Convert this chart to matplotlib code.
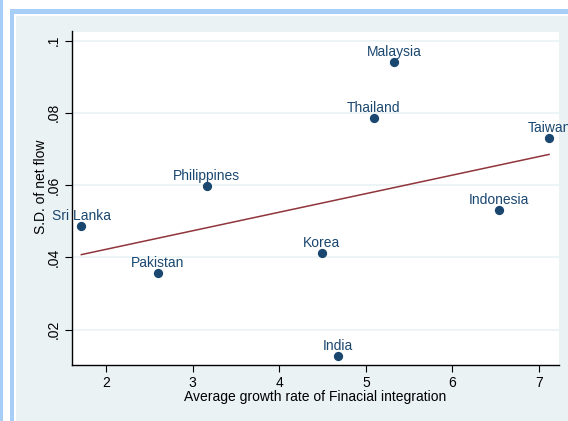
import numpy as np
import matplotlib
matplotlib.use("Agg")
import matplotlib.pyplot as plt
from matplotlib.patches import Rectangle

plt.rcParams['font.family'] = ['Liberation Sans', 'DejaVu Sans']

# Country observations: average growth rate of financial integration vs S.D. of net flow
countries = ["Malaysia", "Thailand", "Philippines", "Korea", "Pakistan",
             "Sri Lanka", "Taiwan", "Indonesia", "India"]
growth = [5.33, 5.09, 3.16, 4.49, 2.60, 1.715, 7.115, 6.54, 4.68]
sd_net_flow = [0.0940, 0.0785, 0.0597, 0.0411, 0.0357, 0.0488, 0.0730, 0.0531, 0.0127]

x_ticks = [2, 3, 4, 5, 6, 7]
y_ticks = [0.02, 0.04, 0.06, 0.08, 0.10]
y_tick_labels = [".02", ".04", ".06", ".08", ".1"]

navy = "#1A476F"
maroon = "#90353B"
bg = "#EAF2F3"
frame_blue = "#A6CEF7"

W, H = 568, 421
fig = plt.figure(figsize=(W / 100, H / 100), dpi=100)
fig.patch.set_facecolor("white")

def px_rect(x0, y0, x1, y1, color):
    fig.patches.append(Rectangle((x0 / W, 1 - y1 / H), (x1 - x0) / W, (y1 - y0) / H,
                                 transform=fig.transFigure, facecolor=color,
                                 edgecolor="none", zorder=-1))

# page frame
px_rect(0, 0, 2.5, H, frame_blue)
px_rect(10, 9.5, W, 13.5, frame_blue)
px_rect(10, 9.5, 14, H, frame_blue)
px_rect(16, 15.5, W, H, bg)

ax = fig.add_axes([72 / W, 1 - 365 / H, (559 - 72) / W, (365 - 31.5) / H])
ax.set_zorder(1)
ax.set_facecolor("white")
ax.set_xlim(1.607, 7.23)
ax.set_ylim(0.0102, 0.1025)

for s in ["top", "right"]:
    ax.spines[s].set_visible(False)
for s in ["left", "bottom"]:
    ax.spines[s].set_color("black")
    ax.spines[s].set_linewidth(1.0)

ax.set_xticks(x_ticks)
ax.set_yticks(y_ticks)
ax.set_yticklabels(y_tick_labels, rotation=90, va="center")
ax.tick_params(axis="both", direction="out", length=5, width=0.8, color="black",
               labelsize=10, labelcolor="black", pad=3)
ax.yaxis.grid(True, color=bg, linewidth=1.2)
ax.set_axisbelow(True)

# linear fit
slope, intercept = np.polyfit(growth, sd_net_flow, 1)
xf = np.array([min(growth), max(growth)])
ax.plot(xf, slope * xf + intercept, color=maroon, linewidth=1.1, zorder=2)

ax.scatter(growth, sd_net_flow, s=32, color=navy, edgecolors=navy, zorder=3)
for name, xv, yv in zip(countries, growth, sd_net_flow):
    ax.annotate(name, (xv, yv), xytext=(0, 3), textcoords="offset pixels",
                ha="center", va="bottom", fontsize=10, color=navy,
                annotation_clip=False, clip_on=False, zorder=4)

ax.set_xlabel("Average growth rate of Finacial integration", fontsize=10, labelpad=0)
ax.set_ylabel("S.D. of net flow", fontsize=10)
ax.yaxis.set_label_coords(-0.049, 0.535)

fig.savefig("out.png", dpi=100, facecolor=fig.get_facecolor())
